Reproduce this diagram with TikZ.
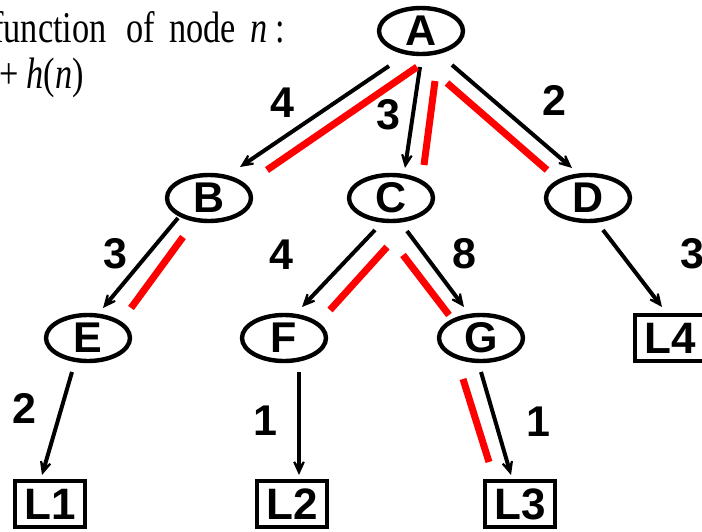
\documentclass[tikz,border=0pt]{standalone}
\usepackage{fontspec}
\usepackage{xcolor}
\setmainfont{Liberation Serif}
\newfontfamily\narrowserif[FakeStretch=0.78]{Liberation Serif}
\newfontfamily\labelfont{Liberation Sans}
\usetikzlibrary{shapes.geometric, arrows.meta}

\begin{document}
\begin{tikzpicture}[x=0.5pt, y=-0.5pt,
        state/.style={ellipse, draw, line width=2.2pt, minimum width=42pt, minimum height=23pt, inner sep=0pt,
            font=\labelfont\bfseries\fontsize{21.5pt}{21.5pt}\selectfont},
        leaf/.style={rectangle, draw, line width=2.2pt, minimum width=35pt, minimum height=23pt, inner sep=0pt,
            font=\labelfont\bfseries\fontsize{22pt}{22pt}\selectfont},
        cost/.style={inner sep=0pt, font=\labelfont\bfseries\fontsize{21.5pt}{21.5pt}\selectfont},
        head/.style={anchor=base west, inner sep=0pt, font=\narrowserif\fontsize{22pt}{22pt}\selectfont},
        arc/.style={line width=2pt, -{Stealth[length=11pt, width=10pt, inset=7pt]}},
        best/.style={line width=3.5pt, red}]
    \useasboundingbox (0,0) rectangle (702,531);
    \clip (0,0) rectangle (702,531);
    % heading, cut off at the left
    \node[head] (head1) at (-8,42) {function\hspace*{10pt}of\hspace*{7pt}node\hspace*{7pt}\textit{n}\hspace*{4pt}:};
    \node[head] (head2) at (-1,88) {+\hspace*{4pt}\textit{h}(\textit{n})};
    % search tree
    \foreach \n/\x/\y in {A/421/31, B/209/198, C/391/198, D/588/198, E/88/338, F/284/338, G/481/338} {
        \node[state] (\n) at (\x,\y) {\n};
    }
    \foreach \n/\x/\y in {L1/50/504, L2/292/504, L3/520/504, L4/670/338} {
        \node[leaf] (\n) at (\x,\y) {\n};
    }
    % arcs: parent/child, offset at parent, offset at child
    \foreach \p/\q/\px/\py/\qx/\qy in {A/B/-32/35/31/-31, A/C/-1/36/14/-30, A/D/31/34/-16/-30,
            B/E/-31/20/15/-30, C/F/-16/32/18/-31, C/G/16/33/-17/-31, D/L4/15/32/-8/-31,
            E/L1/-16/34/-8/-29, F/L2/15/34/7/-29, G/L3/0/34/-9/-29} {
        \draw[arc] ([shift={(\px,\py)}]\p.center) -- ([shift={(\qx,\qy)}]\q.center);
    }
    % red marks beside the arcs
    \foreach \p/\q/\px/\py/\qx/\qy in {A/B/-4/36/58/-28, A/C/14/50/33/-33, A/D/26/52/-41/-28,
            B/E/-26/39/43/-30, C/F/-4/49/46/-28, C/G/12/57/-32/-23, G/L3/-18/41/-31/-42} {
        \draw[best] ([shift={(\px,\py)}]\p.center) -- ([shift={(\qx,\qy)}]\q.center);
    }
    % arc costs
    \foreach \x/\y/\c [count=\i] in {282/103/4, 388/115/3, 554/100/2, 115/254/3, 281/255/4,
            464/254/8, 692/254/3, 24/408/2, 265/421/1, 538/422/1} {
        \node[cost] (w\i) at (\x,\y) {\c};
    }
\end{tikzpicture}
\end{document}
